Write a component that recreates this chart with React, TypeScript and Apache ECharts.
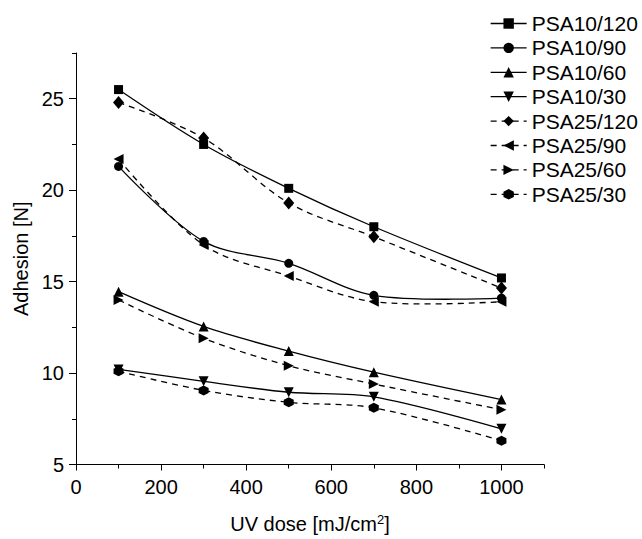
import React, { useEffect, useRef } from "react";
import * as echarts from "echarts";

const doses = [100, 300, 500, 700, 1000];
const psa10_120 = [25.5, 22.5, 20.1, 18.0, 15.2];
const psa10_90 = [21.3, 17.2, 16.0, 14.25, 14.1];
const psa10_60 = [14.45, 12.55, 11.2, 10.05, 8.55];
const psa10_30 = [10.2, 9.55, 8.95, 8.7, 6.95];
const psa25_120 = [24.8, 22.85, 19.3, 17.45, 14.65];
const psa25_90 = [21.7, 17.0, 15.3, 13.9, 13.9];
const psa25_60 = [14.0, 11.9, 10.4, 9.4, 8.0];
const psa25_30 = [10.1, 9.05, 8.4, 8.1, 6.3];

const xMajorTicks = [0, 200, 400, 600, 800, 1000];
const xMinorTicks = [100, 300, 500, 700, 900, 1100];
const yMajorTicks = [5, 10, 15, 20, 25];
const yMinorTicks = [7.5, 12.5, 17.5, 22.5, 27.5];

const FONT = "Liberation Sans, Arial, sans-serif";

const downTri = "path://M0,0 L10,0 L5,9 Z";
const leftTri = "path://M10,0 L10,10 L1,5 Z";
const rightTri = "path://M0,0 L0,10 L9,5 Z";
const hexagon = "path://M5,0 L9.33,2.5 L9.33,7.5 L5,10 L0.67,7.5 L0.67,2.5 Z";

const seriesDefs = [
  { name: "PSA10/120", data: psa10_120, symbol: "rect", size: 9, dashed: false },
  { name: "PSA10/90", data: psa10_90, symbol: "circle", size: 9, dashed: false },
  { name: "PSA10/60", data: psa10_60, symbol: "triangle", size: 10, dashed: false },
  { name: "PSA10/30", data: psa10_30, symbol: downTri, size: 10, dashed: false },
  { name: "PSA25/120", data: psa25_120, symbol: "diamond", size: [11, 13], dashed: true },
  { name: "PSA25/90", data: psa25_90, symbol: leftTri, size: 10, dashed: true },
  { name: "PSA25/60", data: psa25_60, symbol: rightTri, size: 10, dashed: true },
  { name: "PSA25/30", data: psa25_30, symbol: hexagon, size: 10, dashed: true },
];

const DASH = [6, 5];
const LW = 1.3;

export default function App() {
  const ref = useRef<HTMLDivElement>(null);
  useEffect(() => {
    if (!ref.current) return;
    const chart = echarts.init(ref.current, null, { renderer: "svg" });
    const axisLine = { show: true, lineStyle: { color: "#000", width: 1 } };

    const curveSeries = seriesDefs.map((s) => ({
      type: "custom",
      silent: true,
      z: 1,
      xAxisIndex: 0,
      yAxisIndex: 0,
      data: doses.map((d, i) => [d, s.data[i]]),
      encode: { x: 0, y: 1 },
      renderItem: (params: any, api: any) => {
        if (params.dataIndex !== 0) return null;
        const pts = doses.map((d, i) => api.coord([d, s.data[i]]));
        return {
          type: "polyline",
          shape: { points: pts, smooth: 0.33 },
          style: {
            fill: null,
            stroke: "#000",
            lineWidth: LW,
            lineDash: s.dashed ? DASH : null,
          },
        };
      },
    }));

    const markerSeries = seriesDefs.map((s) => ({
      name: s.name,
      type: "line",
      z: 3,
      xAxisIndex: 0,
      yAxisIndex: 0,
      data: doses.map((d, i) => [d, s.data[i]]),
      symbol: s.symbol,
      symbolSize: s.size,
      showAllSymbol: true,
      lineStyle: { color: "#000", width: LW, type: s.dashed ? DASH : "solid", opacity: 0 },
      itemStyle: { color: "#000", borderWidth: 0 },
    }));

    chart.setOption({
      animation: false,
      backgroundColor: "#fff",
      textStyle: { fontFamily: FONT, color: "#000" },
      grid: { left: 76, right: 98, top: 53, bottom: 72, containLabel: false },
      legend: {
        orient: "vertical",
        left: 485,
        top: 8,
        itemWidth: 36,
        itemHeight: 13,
        itemGap: 3.4,
        textStyle: { fontFamily: FONT, fontSize: 21, color: "#000", lineHeight: 21 },
        data: seriesDefs.map((s) => ({
          name: s.name,
          lineStyle: { color: "#000", width: LW, type: s.dashed ? DASH : "solid", opacity: 1 },
        })),
      },
      xAxis: [
        {
          type: "value",
          min: 0,
          max: 1100,
          position: "bottom",
          axisLine,
          axisTick: { show: true, customValues: xMajorTicks, length: 6, lineStyle: { color: "#000" } },
          axisLabel: {
            customValues: xMajorTicks,
            formatter: (v: number) => String(v),
            fontSize: 20,
            color: "#000",
            fontFamily: FONT,
            margin: 12,
          },
          splitLine: { show: false },
          name: "UV dose [mJ/cm{sup|2}]",
          nameLocation: "middle",
          nameGap: 48,
          nameTextStyle: {
            fontSize: 20,
            color: "#000",
            fontFamily: FONT,
            rich: { sup: { fontSize: 13, verticalAlign: "top", padding: [0, 0, 10, 0], color: "#000", fontFamily: FONT } },
          },
        },
        {
          type: "value",
          min: 0,
          max: 1100,
          position: "bottom",
          axisLine: { show: false },
          axisTick: { show: true, customValues: xMinorTicks, length: 4, lineStyle: { color: "#000" } },
          axisLabel: { show: false },
          splitLine: { show: false },
        },
      ],
      yAxis: [
        {
          type: "value",
          min: 5,
          max: 27.5,
          position: "left",
          axisLine,
          axisTick: { show: true, customValues: yMajorTicks, length: 7, lineStyle: { color: "#000" } },
          axisLabel: {
            customValues: yMajorTicks,
            formatter: (v: number) => String(v),
            fontSize: 20,
            color: "#000",
            fontFamily: FONT,
            margin: 12,
          },
          splitLine: { show: false },
          name: "Adhesion [N]",
          nameLocation: "middle",
          nameGap: 44,
          nameTextStyle: { fontSize: 20, color: "#000", fontFamily: FONT },
        },
        {
          type: "value",
          min: 5,
          max: 27.5,
          position: "left",
          axisLine: { show: false },
          axisTick: { show: true, customValues: yMinorTicks, length: 4, lineStyle: { color: "#000" } },
          axisLabel: { show: false },
          splitLine: { show: false },
        },
      ],
      series: [...curveSeries, ...markerSeries],
    });
    return () => chart.dispose();
  }, []);
  return (
    <div
      ref={ref}
      style={{ position: "fixed", left: 0, top: 0, width: 642, height: 539, background: "#fff" }}
    />
  );
}
